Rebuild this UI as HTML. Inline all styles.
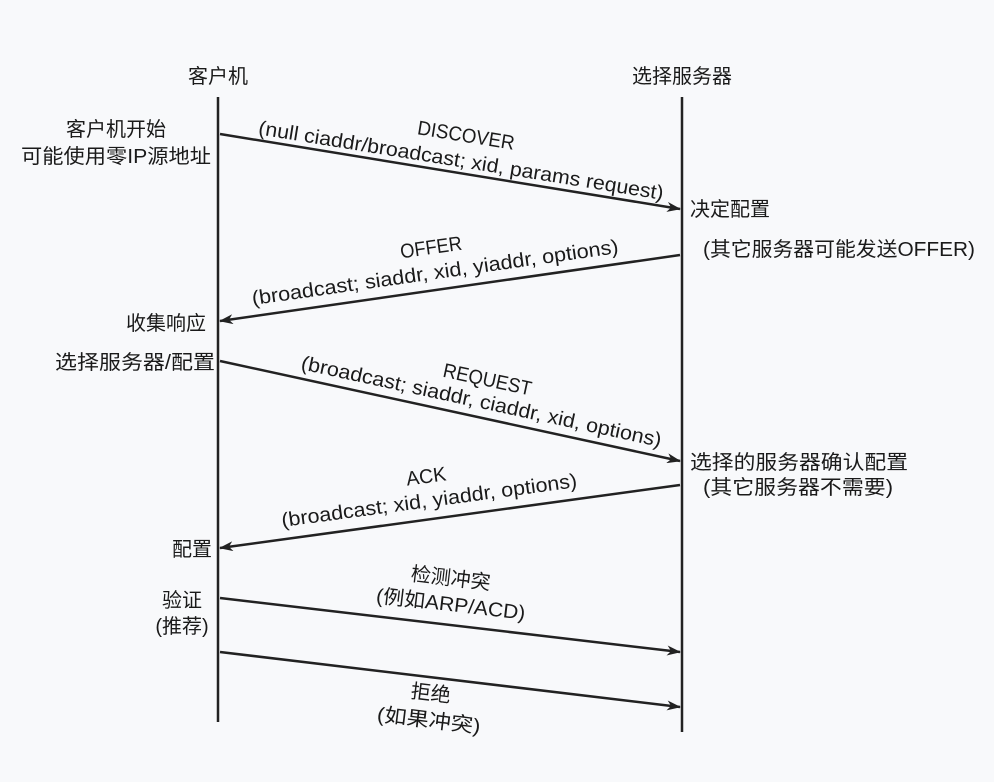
<!DOCTYPE html>
<html><head><meta charset="utf-8"><style>
html,body{margin:0;padding:0;background:#f8f9fb;}
svg{display:block;}
text{font-family:"Liberation Sans","Noto Sans CJK SC",sans-serif;font-size:20px;fill:#1a1a1a;}
</style></head><body>
<svg width="994" height="782" viewBox="0 0 994 782" xmlns="http://www.w3.org/2000/svg">
<defs><marker id="a" markerWidth="14" markerHeight="10" refX="13" refY="5" orient="auto" markerUnits="userSpaceOnUse"><path d="M0,0 L14,5 L0,10 L4,5 Z" fill="#222"/></marker></defs>
<rect width="994" height="782" fill="#f8f9fb"/>
<g stroke="#222" stroke-width="2.5">
<line x1="218" y1="97" x2="218" y2="722"/>
<line x1="682" y1="97" x2="682" y2="732"/>
</g>
<g stroke="#222" stroke-width="2.5" marker-end="url(#a)">
<line x1="220" y1="134" x2="680" y2="209"/>
<line x1="680" y1="255" x2="220" y2="321"/>
<line x1="220" y1="361" x2="680" y2="461"/>
<line x1="680" y1="485" x2="220" y2="548"/>
<line x1="220" y1="598" x2="680" y2="652"/>
<line x1="220" y1="652" x2="680" y2="707"/>
</g>
<g text-anchor="middle">
<text x="218" y="83">客户机</text>
<text x="682" y="83">选择服务器</text>
<text x="116" y="136">客户机开始</text>
<text x="116" y="163" textLength="190" lengthAdjust="spacingAndGlyphs">可能使用零IP源地址</text>
<text x="166" y="330">收集响应</text>
<text x="135" y="369" textLength="160" lengthAdjust="spacingAndGlyphs">选择服务器/配置</text>
<text x="192" y="556">配置</text>
<text x="182" y="607">验证</text>
<text x="182" y="633">(推荐)</text>
</g>
<g text-anchor="start">
<text x="690" y="216">决定配置</text>
<text x="703" y="256" textLength="272" lengthAdjust="spacingAndGlyphs">(其它服务器可能发送OFFER)</text>
<text x="690" y="469" textLength="218" lengthAdjust="spacingAndGlyphs">选择的服务器确认配置</text>
<text x="703" y="494" textLength="190" lengthAdjust="spacingAndGlyphs">(其它服务器不需要)</text>
</g>
<g text-anchor="middle">
<text transform="translate(465,142) rotate(9.2)" textLength="98" lengthAdjust="spacingAndGlyphs">DISCOVER</text>
<text transform="translate(460,167) rotate(9.2)" textLength="410" lengthAdjust="spacingAndGlyphs">(null ciaddr/broadcast; xid, params request)</text>
<text transform="translate(432,254) rotate(-8.1)" textLength="62" lengthAdjust="spacingAndGlyphs">OFFER</text>
<text transform="translate(436,279) rotate(-8.1)" textLength="370" lengthAdjust="spacingAndGlyphs">(broadcast; siaddr, xid, yiaddr, options)</text>
<text transform="translate(486,386) rotate(12.2)" textLength="90" lengthAdjust="spacingAndGlyphs">REQUEST</text>
<text transform="translate(480,408) rotate(12.2)" textLength="368" lengthAdjust="spacingAndGlyphs">(broadcast; siaddr, ciaddr, xid, options)</text>
<text transform="translate(427,483) rotate(-7.7)" textLength="40" lengthAdjust="spacingAndGlyphs">ACK</text>
<text transform="translate(430,507) rotate(-7.7)" textLength="298" lengthAdjust="spacingAndGlyphs">(broadcast; xid, yiaddr, options)</text>
<text transform="translate(450,585) rotate(6.7)">检测冲突</text>
<text transform="translate(450,611) rotate(6.7)" textLength="150" lengthAdjust="spacingAndGlyphs">(例如ARP/ACD)</text>
<text transform="translate(430,700) rotate(6.8)">拒绝</text>
<text transform="translate(428,727) rotate(6.8)" textLength="104" lengthAdjust="spacingAndGlyphs">(如果冲突)</text>
</g>
</svg>
</body></html>
